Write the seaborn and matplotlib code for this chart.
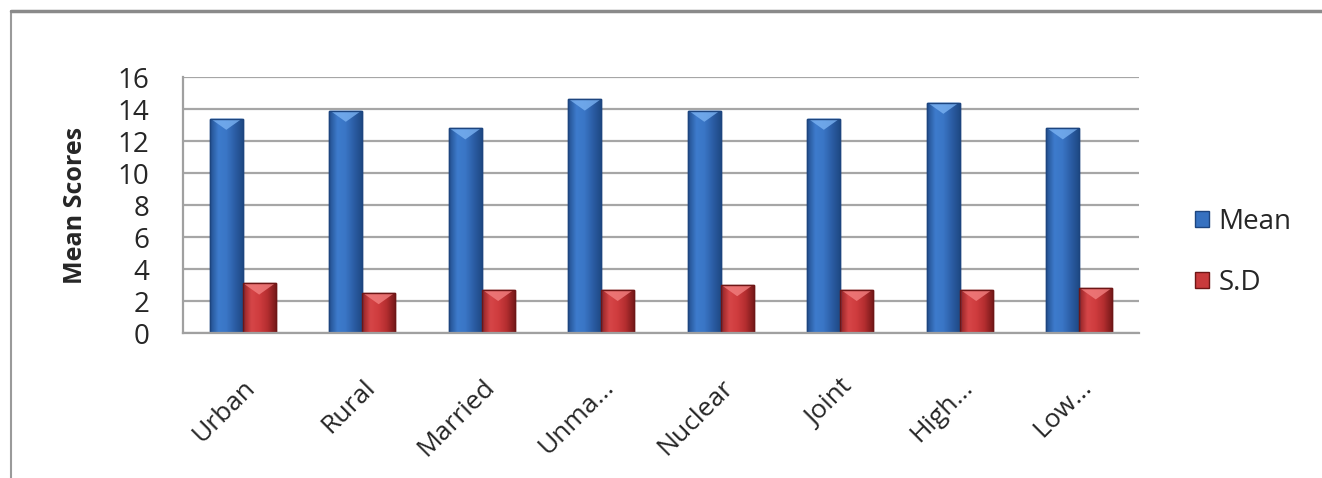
import pandas as pd
import numpy as np
import matplotlib
matplotlib.use('Agg')
import matplotlib.pyplot as plt
import seaborn as sns
from matplotlib.patches import Rectangle, Polygon
from matplotlib.colors import LinearSegmentedColormap

# values
categories = ['Urban', 'Rural', 'Married', 'Unma...', 'Nuclear', 'Joint', 'High...', 'Low...']
mean_vals = [13.4, 13.9, 12.8, 14.6, 13.9, 13.4, 14.4, 12.8]
sd_vals = [3.1, 2.5, 2.7, 2.7, 3.0, 2.7, 2.7, 2.8]
series = ['Mean', 'S.D']
yticks = [0, 2, 4, 6, 8, 10, 12, 14, 16]

df = pd.DataFrame({
    'group': categories * 2,
    'stat': ['Mean'] * len(categories) + ['S.D'] * len(categories),
    'score': mean_vals + sd_vals,
})

sns.set_style('white')
plt.rcParams['font.family'] = ['Open Sans', 'DejaVu Sans']

fig = plt.figure(figsize=(13.22, 4.78), dpi=100)
ax = fig.add_axes([0.1384, 0.3033, 0.7232, 0.5356])

colors = {'Mean': '#3671c0', 'S.D': '#c93a3c'}
edges = {'Mean': '#1d457f', 'S.D': '#6e1616'}
shades = {
    'Mean': ['#24508f', '#3d7bcc', '#3a76c6', '#2c5ea6', '#1f4a86'],
    'S.D': ['#8f2224', '#d64648', '#cf3c3e', '#b42e30', '#7a1a1a'],
}
tops = {'Mean': '#7ab2f2', 'S.D': '#f28080'}

sns.barplot(data=df, x='group', y='score', hue='stat', hue_order=series,
            palette=colors, width=0.55, ax=ax, legend=False, saturation=1)

ax.set_ylim(0, 16)
ax.set_xlim(-0.5, len(categories) - 0.5)

# cylinder-like shading on every bar, clipped to the bar seaborn drew
grad = np.linspace(0, 1, 64).reshape(1, -1)
for cont, s in zip(ax.containers, series):
    cmap = LinearSegmentedColormap.from_list(s, shades[s])
    for bar in cont:
        x0, w, h = bar.get_x(), bar.get_width(), bar.get_height()
        im = ax.imshow(grad, cmap=cmap, aspect='auto', extent=(x0, x0 + w, 0, h),
                       zorder=bar.get_zorder() + 0.1, interpolation='bicubic')
        im.set_clip_path(bar)
        bar.set_edgecolor(edges[s])
        bar.set_linewidth(1.0)
        tri = Polygon([(x0 + 0.02 * w, h), (x0 + 0.98 * w, h), (x0 + 0.5 * w, h - 0.7)],
                      closed=True, facecolor=tops[s], edgecolor='none', alpha=0.8,
                      zorder=bar.get_zorder() + 0.2)
        ax.add_patch(tri)
        ax.add_patch(Rectangle((x0, 0), w, h, facecolor='none', edgecolor=edges[s],
                               linewidth=1.0, zorder=bar.get_zorder() + 0.3))

ax.set_aspect('auto')
ax.set_ylim(0, 16)
ax.set_xlim(-0.5, len(categories) - 0.5)
ax.set_yticks(yticks)
ax.set_yticklabels([str(v) for v in yticks], fontsize=20)
ax.yaxis.grid(True, color='#a6a6a6', linewidth=1.6)
ax.set_axisbelow(True)
for side in ['top', 'right']:
    ax.spines[side].set_visible(False)
for side in ['left', 'bottom']:
    ax.spines[side].set_color('#a0a0a0')
    ax.spines[side].set_linewidth(1.6)
ax.tick_params(axis='y', direction='out', length=10, color='#a0a0a0', width=1.5, pad=14)

ax.set_xticks(range(len(categories)))
ax.set_xticklabels(categories, rotation=45, ha='right', rotation_mode='anchor', fontsize=19)
ax.set_xticks(np.arange(-0.5, len(categories)), minor=True)
ax.tick_params(axis='x', which='major', length=0, pad=30)
ax.tick_params(axis='x', which='minor', direction='out', length=8, color='#a0a0a0', width=1.5)
ax.set_xlabel('')
ax.set_ylabel('Mean Scores', fontsize=18, fontweight='bold')
ax.yaxis.set_label_coords(-0.099, 0.5)

handles = [Rectangle((0, 0), 1, 1, facecolor=colors[s], edgecolor=edges[s]) for s in series]
fig.legend(handles, series, loc='center left', bbox_to_anchor=(0.885, 0.472),
           frameon=False, fontsize=20, handlelength=0.5, handleheight=0.5,
           handletextpad=0.35, labelspacing=1.2)

# outer page border
fig.add_artist(plt.Line2D([0.008, 0.008], [0.0, 0.978], transform=fig.transFigure,
                          color='#9a9a9a', linewidth=1.5))
fig.add_artist(plt.Line2D([0.008, 1.0], [0.978, 0.978], transform=fig.transFigure,
                          color='#8a8a8a', linewidth=2.5))

fig.savefig('out.png', dpi=100)
